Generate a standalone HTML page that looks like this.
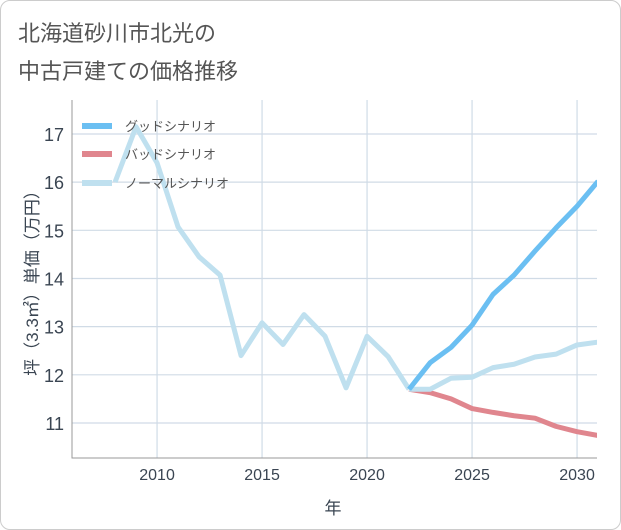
<!DOCTYPE html>
<html><head><meta charset="utf-8"><style>
body{margin:0;background:#fff;font-family:"Liberation Sans","Noto Sans CJK JP",sans-serif;}
.wrap{position:relative;width:619px;height:528px;border:1px solid #ccc;border-radius:10px;overflow:hidden;}
.title{position:absolute;left:17px;top:14px;font-size:22px;line-height:38px;color:#555;}
</style></head><body>
<div class="wrap">
<div class="title">北海道砂川市北光の<br>中古戸建ての価格推移</div>
<svg id="c" width="621" height="530" style="position:absolute;left:-1px;top:-1px"></svg>
</div>
<script>
const years=[2008,2009,2010,2011,2012,2013,2014,2015,2016,2017,2018,2019,2020,2021,2022];
const normalHist=[16.0,17.15,16.4,15.07,14.45,14.07,12.4,13.08,12.63,13.25,12.8,11.73,12.8,12.38,11.7];
const futYears=[2022,2023,2024,2025,2026,2027,2028,2029,2030,2031];
const good=[11.7,12.25,12.57,13.03,13.67,14.07,14.57,15.05,15.5,16.02];
const bad=[11.7,11.63,11.5,11.3,11.22,11.15,11.1,10.93,10.82,10.74];
const normalFut=[11.7,11.7,11.93,11.95,12.15,12.22,12.37,12.43,12.62,12.68];
const yTicks=[11,12,13,14,15,16,17];
const xTicks=[2010,2015,2020,2025,2030];
const NS='http://www.w3.org/2000/svg';
const svg=document.getElementById('c');
const L=72,R=597,T=100,B=458;
const X=v=>L+(v-2005.95)*21;
const Y=v=>423-(v-11)*48.17;
function mk(t,a){const e=document.createElementNS(NS,t);for(const k in a)e.setAttribute(k,a[k]);svg.appendChild(e);return e;}
const clip=mk('clipPath',{id:'pc'});
const cr=document.createElementNS(NS,'rect');cr.setAttribute('x',L);cr.setAttribute('y',T);cr.setAttribute('width',R-L);cr.setAttribute('height',B-T);clip.appendChild(cr);
yTicks.forEach(v=>{
const g=mk('line',{x1:L,x2:R,y1:Y(v),y2:Y(v),stroke:'#d0dbe6','stroke-width':1.2});


const t=mk('text',{x:L-8,y:Y(v)+7,'text-anchor':'end','font-size':18,fill:'#3a4552'});t.textContent=v;


});
xTicks.forEach(v=>{
const g=mk('line',{x1:X(v),x2:X(v),y1:T,y2:B,stroke:'#d0dbe6','stroke-width':1.2});


const t=mk('text',{x:X(v),y:B+22,'text-anchor':'middle','font-size':16,fill:'#3a4552'});t.textContent=v;


});
const ax=mk('path',{d:`M${L},${T}V${B}H${R}`,fill:'none',stroke:'#999','stroke-width':1});


function line(xs,ys,col,name){
const p=mk('polyline',{points:xs.map((x,i)=>X(x)+','+Y(ys[i])).join(' '),fill:'none',stroke:col,'stroke-width':5,'stroke-linejoin':'round','clip-path':'url(#pc)'});


}
line(futYears,bad,'#e0868e','bad-scenario-line');
line(futYears,normalFut,'#bfe0ef','normal-scenario-forecast-line');
line(years,normalHist,'#bfe0ef','normal-scenario-history-line');
line(futYears,good,'#6bbff2','good-scenario-line');
[['グッドシナリオ','#6bbff2',126],['バッドシナリオ','#e0868e',154],['ノーマルシナリオ','#bfe0ef',183]].forEach(([n,c,y])=>{
const l=mk('line',{x1:82,x2:112,y1:y,y2:y,stroke:c,'stroke-width':6});


const t=mk('text',{x:125,y:y+5,'font-size':13,fill:'#555'});t.textContent=n;


});
const yt=mk('text',{transform:'translate(38,279) rotate(-90)','text-anchor':'middle','font-size':17,fill:'#3a4552'});yt.textContent='坪（3.3㎡）単価（万円）';


const xt=mk('text',{x:333,y:514,'text-anchor':'middle','font-size':17,fill:'#3a4552'});xt.textContent='年';


</script>
</body></html>
